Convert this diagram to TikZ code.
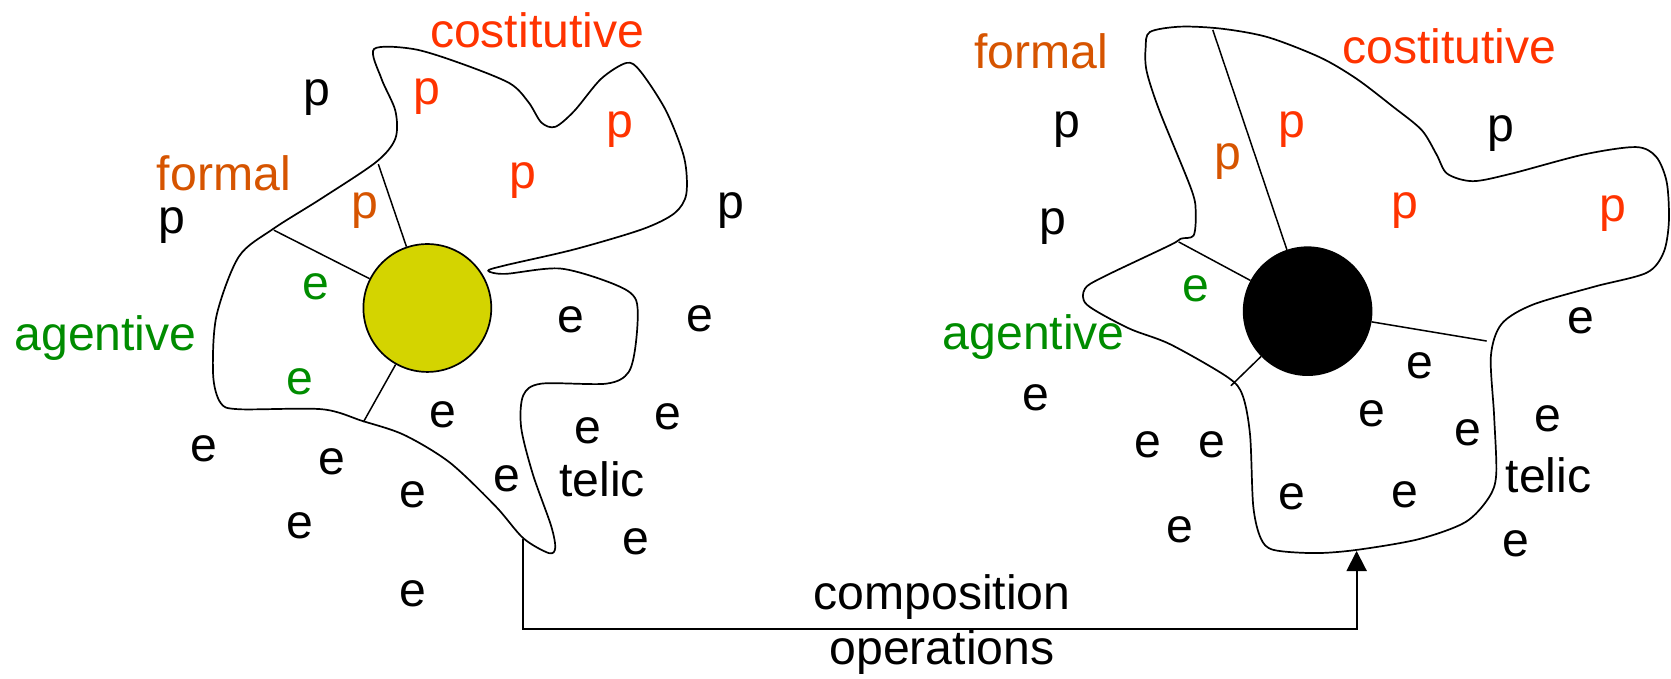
\documentclass[tikz,border=0pt]{standalone}
\usepackage{fontspec}
\setmainfont{Liberation Sans}
\usetikzlibrary{arrows.meta}
\definecolor{qred}{RGB}{255,51,0}
\definecolor{qorange}{RGB}{214,84,0}
\definecolor{qgreen}{RGB}{0,140,0}
\definecolor{qyellow}{RGB}{212,212,0}
\begin{document}
\begin{tikzpicture}[x=0.5pt,y=-0.5pt,
  lbl/.style={inner sep=0pt, font=\fontsize{22.6}{26}\selectfont},
  blob/.style={draw, line width=0.8pt, line join=round},
  divider/.style={draw, line width=0.7pt},
  core/.style={circle, draw, line width=0.8pt, minimum size=60pt, inner sep=0pt},
  flow/.style={draw, line width=0.9pt, -{Triangle[length=9.4pt,width=9.4pt]}}]
\useasboundingbox (0,0) rectangle (1568,637);

% ---------- left structure ----------
\draw[blob] plot[smooth cycle, tension=0.5] coordinates {
  (351,46) (388,46) (431,59) (478,78) (496,96) (508,115) (521,119) (539,104)
  (564,74) (588,59) (601,67) (625,104) (642,148) (644,182) (633,200) (603,215)
  (539,234) (474,249) (458,254) (474,257) (526,252) (577,267) (597,282) (597,319)
  (590,349) (569,360) (508,360) (491,371) (489,401) (500,445) (517,493) (521,514)
  (515,519) (491,505) (465,475) (422,434) (379,408) (340,395) (302,384) (224,384)
  (207,378) (200,352) (203,297) (224,241) (256,215) (302,186) (353,152) (371,130)
  (371,104) (358,74)};
\node[core, fill=qyellow] (lc) at (401,289) {};
\coordinate (ld1) at (355,154);
\coordinate (ld2) at (257,216);
\coordinate (ld3) at (341,396);
\draw[divider] (ld1) -- (lc);
\draw[divider] (ld2) -- (lc);
\draw[divider] (ld3) -- (lc);

\node[lbl, text=qred] (l1) at (504,28) {costitutive};
\node[lbl] (l2) at (297,92) {p};
\node[lbl, text=qred] (l3) at (401,91) {p};
\node[lbl, text=qred] (l4) at (582,122) {p};
\node[lbl, text=qorange] (l5) at (210,163) {formal};
\node[lbl, text=qred] (l6) at (491,169) {p};
\node[lbl] (l7) at (686,198) {p};
\node[lbl] (l8) at (161,212) {p};
\node[lbl, text=qorange] (l9) at (342,198) {p};
\node[lbl, text=qgreen] (l10) at (296,269) {e};
\node[lbl, text=qgreen] (l11) at (99,317) {agentive};
\node[lbl] (l12) at (536,300) {e};
\node[lbl] (l13) at (657,299) {e};
\node[lbl, text=qgreen] (l14) at (281,358) {e};
\node[lbl] (l15) at (416,389) {e};
\node[lbl] (l16) at (552,404) {e};
\node[lbl] (l17) at (627,391) {e};
\node[lbl] (l18) at (191,421) {e};
\node[lbl] (l19) at (311,433) {e};
\node[lbl] (l20) at (387,464) {e};
\node[lbl] (l21) at (476,449) {e};
\node[lbl] (l22) at (565,450) {telic};
\node[lbl] (l23) at (281,493) {e};
\node[lbl] (l24) at (597,508) {e};
\node[lbl] (l25) at (387,557) {e};

% ---------- right structure ----------
\draw[blob] plot[smooth cycle, tension=0.5] coordinates {
  (1079,30) (1108,25) (1147,27) (1190,35) (1239,54) (1273,74) (1307,100) (1334,122)
  (1348,145) (1358,163) (1382,170) (1418,163) (1486,145) (1535,138) (1554,147)
  (1564,171) (1566,208) (1561,237) (1545,256) (1496,269) (1438,286) (1409,304)
  (1399,334) (1402,390) (1404,445) (1397,467) (1375,490) (1331,506) (1273,516)
  (1234,519) (1195,516) (1183,505) (1176,475) (1173,408) (1166,371) (1152,354)
  (1098,323) (1059,308) (1020,286) (1018,271) (1035,260) (1098,230) (1108,224)
  (1120,221) (1122,200) (1118,178) (1088,104) (1076,67) (1075,45)};
\node[core, fill=black] (rc) at (1227,292) {};
\coordinate (rd1) at (1138,28);
\coordinate (rd2) at (1106,227);
\coordinate (rd3) at (1395,320);
\coordinate (rd4) at (1155,362);
\draw[divider] (rd1) -- (rc);
\draw[divider] (rd2) -- (rc);
\draw[divider] (rd3) -- (rc);
\draw[divider] (rd4) -- (rc);

\node[lbl, text=qorange] (r1) at (977,48) {formal};
\node[lbl, text=qred] (r2) at (1360,43) {costitutive};
\node[lbl] (r3) at (1001,122) {p};
\node[lbl, text=qred] (r4) at (1212,122) {p};
\node[lbl, text=qorange] (r5) at (1152,152) {p};
\node[lbl] (r6) at (1408,125) {p};
\node[lbl] (r7) at (988,213) {p};
\node[lbl, text=qred] (r8) at (1318,198) {p};
\node[lbl, text=qred] (r9) at (1513,200) {p};
\node[lbl, text=qgreen] (r10) at (1122,271) {e};
\node[lbl, text=qgreen] (r11) at (970,316) {agentive};
\node[lbl] (r12) at (1483,301) {e};
\node[lbl] (r13) at (1332,343) {e};
\node[lbl] (r14) at (972,373) {e};
\node[lbl] (r15) at (1287,388) {e};
\node[lbl] (r16) at (1377,406) {e};
\node[lbl] (r17) at (1452,393) {e};
\node[lbl] (r18) at (1077,417) {e};
\node[lbl] (r19) at (1137,417) {e};
\node[lbl] (r20) at (1212,466) {e};
\node[lbl] (r21) at (1318,464) {e};
\node[lbl] (r22) at (1453,446) {telic};
\node[lbl] (r23) at (1107,497) {e};
\node[lbl] (r24) at (1422,510) {e};

% ---------- composition arrow ----------
\coordinate (lfoot) at (491,506);
\coordinate (rfoot) at (1273,517);
\coordinate (bend) at (491,590);
\draw[flow] (lfoot) -- (bend) -| (rfoot);
\node[lbl] (c1) at (884,560) {composition};
\node[lbl] (c2) at (884,612) {operations};
\end{tikzpicture}
\end{document}
